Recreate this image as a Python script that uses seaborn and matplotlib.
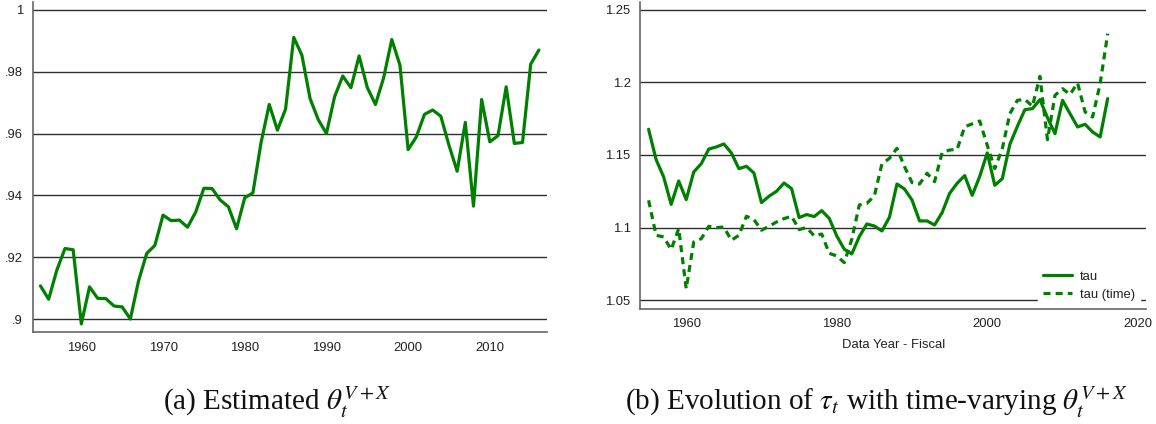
import numpy as np
import pandas as pd
import matplotlib
matplotlib.use("Agg")
import matplotlib.pyplot as plt
import seaborn as sns

# panel (a): estimated theta, 1955-2016
years_a = list(range(1955, 2017))
theta = [
  0.9107, 0.9064, 0.9158, 0.9228, 0.9224, 0.8984, 0.9104, 0.9067, 0.9066, 0.9042,
  0.9039, 0.9000, 0.9123, 0.9212, 0.9238, 0.9336, 0.9318, 0.9320, 0.9297, 0.9346,
  0.9423, 0.9422, 0.9385, 0.9363, 0.9292, 0.9392, 0.9408, 0.9571, 0.9694, 0.9611,
  0.9679, 0.9911, 0.9853, 0.9713, 0.9645, 0.9600, 0.9719, 0.9786, 0.9748, 0.9851,
  0.9749, 0.9694, 0.9780, 0.9904, 0.9821, 0.9548, 0.9589, 0.9662, 0.9676, 0.9656,
  0.9562, 0.9478, 0.9636, 0.9365, 0.9710, 0.9573, 0.9593, 0.9751, 0.9568, 0.9571,
  0.9824, 0.9870,
]

# panel (b): tau and tau (time), 1955-2016
years_b = list(range(1955, 2017))
tau = [
  1.1677, 1.1468, 1.1349, 1.1160, 1.1321, 1.1193, 1.1383, 1.1440, 1.1541, 1.1555,
  1.1576, 1.1514, 1.1406, 1.1422, 1.1376, 1.1172, 1.1216, 1.1250, 1.1307, 1.1268,
  1.1069, 1.1090, 1.1076, 1.1117, 1.1064, 1.0943, 1.0851, 1.0819, 1.0938, 1.1025,
  1.1011, 1.0977, 1.1071, 1.1300, 1.1266, 1.1190, 1.1046, 1.1046, 1.1018, 1.1103,
  1.1236, 1.1305, 1.1358, 1.1222, 1.1353, 1.1514, 1.1291, 1.1337, 1.1573, 1.1697,
  1.1812, 1.1819, 1.1881, 1.1757, 1.1647, 1.1876, 1.1784, 1.1693, 1.1711, 1.1658,
  1.1624, 1.1888,
]
tau_time = [
  1.1188, 1.0947, 1.0936, 1.0849, 1.0993, 1.0580, 1.0901, 1.0924, 1.1009, 1.1000,
  1.1004, 1.0913, 1.0947, 1.1078, 1.1055, 1.0982, 1.1009, 1.1039, 1.1062, 1.1078,
  1.0986, 1.1001, 1.0943, 1.0956, 1.0823, 1.0805, 1.0759, 1.0920, 1.1156, 1.1167,
  1.1218, 1.1438, 1.1477, 1.1546, 1.1420, 1.1310, 1.1300, 1.1374, 1.1316, 1.1516,
  1.1534, 1.1539, 1.1694, 1.1714, 1.1734, 1.1566, 1.1406, 1.1544, 1.1784, 1.1876,
  1.1883, 1.1835, 1.2041, 1.1605, 1.1911, 1.1956, 1.1917, 1.1995, 1.1796, 1.1761,
  1.1991, 1.2335,
]

xt_a = [1960, 1970, 1980, 1990, 2000, 2010]
yt_a = [0.90, 0.92, 0.94, 0.96, 0.98, 1.00]
yl_a = [".9", ".92", ".94", ".96", ".98", "1"]
xt_b = [1960, 1980, 2000, 2020]
yt_b = [1.05, 1.10, 1.15, 1.20, 1.25]
yl_b = ["1.05", "1.1", "1.15", "1.2", "1.25"]

sns.set_style("white")
plt.rcParams["font.family"] = ["Liberation Sans", "DejaVu Sans"]
plt.rcParams["mathtext.fontset"] = "stix"

green = "#008000"
ink = "#222222"

fig = plt.figure(figsize=(11.56, 4.24), dpi=100)
ax1 = fig.add_axes([0.0283, 0.217, 0.4449, 0.778])
ax2 = fig.add_axes([0.5539, 0.272, 0.4375, 0.7233])

df_a = pd.DataFrame({"year": years_a, "theta": theta})
sns.lineplot(data=df_a, x="year", y="theta", ax=ax1, color=green, lw=2.3)

df_b = pd.DataFrame({"year": years_b, "tau": tau, "tau (time)": tau_time})
sns.lineplot(data=df_b, x="year", y="tau", ax=ax2, color=green, lw=2.3, label="tau")
sns.lineplot(data=df_b, x="year", y="tau (time)", ax=ax2, color=green, lw=2.3,
             dashes=(2.2, 1.6), label="tau (time)")

def style(ax, xt, yt, yl, xlim, ylim):
  ax.set_xlim(*xlim)
  ax.set_ylim(*ylim)
  ax.set_xticks(xt)
  ax.set_xticklabels([str(v) for v in xt])
  ax.set_yticks(yt)
  ax.set_yticklabels(yl)
  ax.yaxis.grid(True, color="#2e2e2e", lw=1.0)
  ax.xaxis.grid(False)
  ax.set_axisbelow(True)
  for s in ["top", "right"]:
    ax.spines[s].set_visible(False)
  for s in ["left", "bottom"]:
    ax.spines[s].set_color("#666666")
    ax.spines[s].set_linewidth(1.2)
  ax.tick_params(axis="both", direction="out", length=4, width=1,
                 color="#444444", labelsize=9.4, labelcolor=ink, pad=3)
  ax.set_ylabel("")
  ax.set_xlabel("")

style(ax1, xt_a, yt_a, yl_a, (1954.05, 2017.0), (0.8958, 1.0025))
style(ax2, xt_b, yt_b, yl_b, (1953.9, 2021.1), (1.0442, 1.2553))

ax2.set_xlabel("Data Year - Fiscal", fontsize=9.4, color=ink, labelpad=6)

leg = ax2.legend(loc="lower right", bbox_to_anchor=(0.993, 0.0), fontsize=9.4,
                 frameon=True, fancybox=False, framealpha=1, handlelength=2.2,
                 borderaxespad=0.2, labelspacing=0.45, handletextpad=0.6)
leg.get_frame().set_edgecolor("white")
leg.get_frame().set_facecolor("white")
for t in leg.get_texts():
  t.set_color(ink)

cap = dict(ha="center", va="baseline", fontsize=21, family=["Liberation Serif", "DejaVu Serif"],
           color="#111111")
fig.text(277 / 1156, 1 - 410 / 424, r"(a) Estimated $\theta_t^{V+X}$", **cap)
fig.text(876 / 1156, 1 - 410 / 424, r"(b) Evolution of $\tau_t$ with time-varying $\theta_t^{V+X}$", **cap)

fig.savefig("out.png", dpi=100)
